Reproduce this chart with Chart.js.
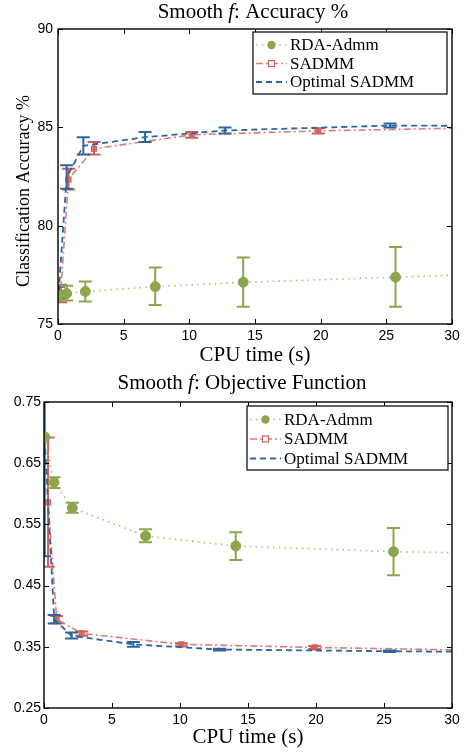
<!DOCTYPE html>
<html><head><meta charset="utf-8">
<script src="https://cdn.jsdelivr.net/npm/chart.js@4.4.1/dist/chart.umd.min.js"></script>
<style>
body{margin:0;background:#fff;width:465px;height:755px;overflow:hidden}
canvas{position:absolute;left:0}
#c1{top:0}
#c2{top:372px}
</style>
</head><body>
<canvas id="c1" width="465" height="372"></canvas>
<canvas id="c2" width="465" height="383"></canvas>
<script>
// ---------- data ----------
const seriesNames = ['RDA-Admm', 'SADMM', 'Optimal SADMM'];
const xTicks = [0, 5, 10, 15, 20, 25, 30];
const accYTicks = [75, 80, 85, 90];
const accYTickLabels = ['75', '80', '85', '90'];
const objYTicks = [0.25, 0.35, 0.45, 0.55, 0.65, 0.75];
const objYTickLabels = ['0.25', '0.35', '0.45', '0.55', '0.65', '0.75'];

// Accuracy (%)
const accRdaX  = [0.05, 0.66, 2.08, 7.4, 14.1, 25.7, 30];
const accRdaY  = [76.45, 76.55, 76.65, 76.9, 77.12, 77.38, 77.48];
const accRdaLo = [null, 76.19, 76.15, 75.97, 75.88, 75.88, null];
const accRdaHi = [null, 76.94, 77.16, 77.87, 78.38, 78.91, null];

const accSadX  = [0.2, 0.8, 2.74, 10.18, 19.82, 30];
const accSadY  = [76.55, 82.35, 83.91, 84.62, 84.82, 84.95];
const accSadLo = [76.1, 81.84, 83.62, 84.47, 84.69, null];
const accSadHi = [77.0, 82.89, 84.25, 84.76, 84.95, null];

const accOptX  = [0.05, 0.66, 1.93, 6.63, 12.72, 25.28, 30];
const accOptY  = [76.6, 82.45, 84.06, 84.5, 84.84, 85.09, 85.08];
const accOptLo = [76.3, 81.88, 83.62, 84.25, 84.69, 84.99, null];
const accOptHi = [76.9, 83.07, 84.5, 84.76, 84.99, 85.19, null];

// Objective function
const objRdaX  = [0.05, 0.735, 2.08, 7.47, 14.1, 25.7, 30];
const objRdaY  = [0.693, 0.619, 0.577, 0.531, 0.5147, 0.5055, 0.504];
const objRdaLo = [null, 0.6095, 0.569, 0.521, 0.492, 0.467, null];
const objRdaHi = [null, 0.627, 0.5855, 0.542, 0.537, 0.544, null];

const objSadX  = [0.3, 0.93, 2.77, 10.1, 19.9, 30];
const objSadY  = [0.586, 0.395, 0.372, 0.354, 0.349, 0.345];
const objSadLo = [0.481, 0.3885, 0.368, 0.351, 0.3465, null];
const objSadHi = [0.692, 0.4003, 0.375, 0.356, 0.3515, null];

const objOptX  = [0.05, 0.75, 2.03, 6.57, 12.9, 25.4, 30];
const objOptY  = [0.69, 0.395, 0.368, 0.354, 0.3455, 0.3428, 0.342];
const objOptLo = [0.498, 0.388, 0.3637, 0.350, 0.344, 0.3415, null];
const objOptHi = [0.88, 0.402, 0.3735, 0.358, 0.347, 0.344, null];

// ---------- styles ----------
const GREEN = '#8da64e', RED = '#d0605b', BLUE = '#2e64a0';
const SERIF = '"Liberation Serif", "Times New Roman", serif';
const SANS = '"Liberation Sans", Arial, sans-serif';

function pts(xs, ys) { return xs.map((x, i) => ({x, y: ys[i]})); }

function makeDatasets(rX, rY, rLo, rHi, sX, sY, sLo, sHi, oX, oY, oLo, oHi) {
  return [
    {
      label: seriesNames[0], data: pts(rX, rY), errLo: rLo, errHi: rHi, errColor: GREEN,
      borderColor: 'rgba(165,188,110,0.9)', borderWidth: 1.6, borderDash: [1.6, 4.2],
      pointStyle: 'circle', pointBackgroundColor: GREEN, pointBorderColor: GREEN,
      pointRadius: c => c.dataIndex === rX.length - 1 ? 0 : 5, pointBorderWidth: 1,
      legendMarker: 'circle', order: 0
    },
    {
      label: seriesNames[1], data: pts(sX, sY), errLo: sLo, errHi: sHi, errColor: RED,
      borderColor: '#dd7d77', borderWidth: 1.6, borderDash: [7, 3, 2, 3],
      pointStyle: 'rect', pointBackgroundColor: 'rgba(214,112,106,0.75)', pointBorderColor: RED,
      pointRadius: c => c.dataIndex === sX.length - 1 ? 0 : 3.5, pointBorderWidth: 1.2,
      legendMarker: 'rect', order: 2
    },
    {
      label: seriesNames[2], data: pts(oX, oY), errLo: oLo, errHi: oHi, errColor: BLUE,
      borderColor: BLUE, borderWidth: 1.8, borderDash: [6, 4],
      pointRadius: 0, legendMarker: null, order: 1
    }
  ];
}

// ---------- plugins ----------
const errorBars = {
  id: 'errorBars',
  afterDatasetDraw(chart, args) {
    const ds = chart.data.datasets[args.index];
    if (!ds.errLo) return;
    const {ctx, chartArea: a, scales: {x, y}} = chart;
    const w = 6.5;
    ctx.save();
    ctx.beginPath(); ctx.rect(a.left, a.top, a.width, a.height); ctx.clip();
    ctx.strokeStyle = ds.errColor; ctx.lineWidth = 2; ctx.setLineDash([]);
    ds.data.forEach((p, i) => {
      const lo = ds.errLo[i], hi = ds.errHi[i];
      if (lo == null || hi == null) return;
      const px = x.getPixelForValue(p.x), pl = y.getPixelForValue(lo), ph = y.getPixelForValue(hi);
      ctx.beginPath();
      ctx.moveTo(px, pl); ctx.lineTo(px, ph);
      ctx.moveTo(px - w, pl); ctx.lineTo(px + w, pl);
      ctx.moveTo(px - w, ph); ctx.lineTo(px + w, ph);
      ctx.stroke();
    });
    ctx.restore();
  }
};

const frameTicks = {
  id: 'frameTicks',
  afterDraw(chart) {
    const {ctx, chartArea: a, scales: {x, y}} = chart;
    const L = 5;
    ctx.save();
    ctx.strokeStyle = '#000'; ctx.lineWidth = 1.4; ctx.setLineDash([]);
    ctx.strokeRect(a.left, a.top, a.right - a.left, a.bottom - a.top);
    ctx.lineWidth = 1;
    ctx.beginPath();
    x.ticks.forEach(t => {
      const px = Math.round(x.getPixelForValue(t.value)) + 0.5;
      ctx.moveTo(px, a.bottom); ctx.lineTo(px, a.bottom - L);
      ctx.moveTo(px, a.top); ctx.lineTo(px, a.top + L);
    });
    y.ticks.forEach(t => {
      const py = Math.round(y.getPixelForValue(t.value)) + 0.5;
      ctx.moveTo(a.left, py); ctx.lineTo(a.left + L, py);
      ctx.moveTo(a.right, py); ctx.lineTo(a.right - L, py);
    });
    ctx.stroke();
    ctx.restore();
  }
};

const richTitle = {
  id: 'richTitle',
  afterDraw(chart, args, opts) {
    const {ctx, chartArea: a} = chart;
    ctx.save();
    ctx.fillStyle = '#000';
    ctx.textBaseline = 'middle';
    if (opts.parts) {
      const fonts = opts.parts.map(p => (p.italic ? 'italic ' : '') + opts.size + 'px ' + SERIF);
      let total = 0;
      const widths = opts.parts.map((p, i) => { ctx.font = fonts[i]; const w = ctx.measureText(p.text).width; total += w; return w; });
      let xx = (a.left + a.right) / 2 + (opts.dx || 0) - total / 2;
      ctx.textAlign = 'left';
      opts.parts.forEach((p, i) => { ctx.font = fonts[i]; ctx.fillText(p.text, xx, opts.y); xx += widths[i]; });
    }
    if (opts.yTitle) {
      ctx.font = opts.yTitleSize + 'px ' + SERIF;
      ctx.textAlign = 'center';
      ctx.translate(opts.yTitleX, opts.yTitleY);
      ctx.rotate(-Math.PI / 2);
      ctx.fillText(opts.yTitle, 0, 0);
    }
    ctx.restore();
  }
};

const boxLegend = {
  id: 'boxLegend',
  afterDraw(chart, args, opts) {
    const {ctx, chartArea: a} = chart;
    const bx = a.right - opts.rightGap - opts.width, by = a.top + opts.topGap;
    ctx.save();
    ctx.fillStyle = '#fff';
    ctx.fillRect(bx, by, opts.width, opts.height);
    ctx.strokeStyle = '#000'; ctx.lineWidth = 1.2; ctx.setLineDash([]);
    ctx.strokeRect(bx, by, opts.width, opts.height);
    ctx.font = opts.size + 'px ' + SERIF;
    ctx.textBaseline = 'middle';
    chart.data.datasets.forEach((ds, i) => {
      const cy = by + opts.firstRow + i * opts.rowGap;
      const x0 = bx + 3, x1 = bx + 3 + opts.sample;
      ctx.strokeStyle = ds.borderColor; ctx.lineWidth = ds.borderWidth;
      ctx.setLineDash(ds.borderDash || []);
      ctx.beginPath(); ctx.moveTo(x0, cy); ctx.lineTo(x1, cy); ctx.stroke();
      ctx.setLineDash([]);
      const mx = (x0 + x1) / 2;
      if (ds.legendMarker === 'circle') {
        ctx.fillStyle = ds.pointBackgroundColor;
        ctx.beginPath(); ctx.arc(mx, cy, 4.2, 0, Math.PI * 2); ctx.fill();
      } else if (ds.legendMarker === 'rect') {
        ctx.fillStyle = '#fff'; ctx.fillRect(mx - 3, cy - 3, 6, 6);
        ctx.strokeStyle = ds.pointBorderColor; ctx.lineWidth = 1.2;
        ctx.strokeRect(mx - 3, cy - 3, 6, 6);
      }
      ctx.fillStyle = '#000';
      ctx.fillText(ds.label, x1 + 3, cy + 1);
    });
    ctx.restore();
  }
};

function makeChart(id, datasets, yTicks, yLabels, cfg) {
  return new Chart(document.getElementById(id), {
    type: 'line',
    data: {datasets},
    plugins: [errorBars, frameTicks, richTitle, boxLegend],
    options: {
      responsive: false, animation: false, devicePixelRatio: 1,
      layout: {padding: {top: cfg.top, right: cfg.right, left: 0, bottom: 0}},
      plugins: {
        legend: {display: false}, tooltip: {enabled: false}, title: {display: false},
        richTitle: {parts: cfg.title, size: 21, y: cfg.titleY, dx: cfg.titleDx,
                    yTitle: cfg.yTitle, yTitleSize: 18, yTitleX: 24, yTitleY: 191},
        boxLegend: cfg.legend
      },
      scales: {
        x: {
          type: 'linear', min: 0, max: 30,
          afterBuildTicks: s => { s.ticks = xTicks.map(v => ({value: v})); },
          afterFit: s => { s.height = cfg.xHeight; },
          grid: {display: false, drawTicks: false}, border: {display: false},
          ticks: {color: '#000', font: {family: SANS, size: 14}, padding: 4, maxRotation: 0,
                  callback: (v, i) => String(xTicks[i])},
          title: {display: true, text: 'CPU time (s)', color: '#000',
                  font: {family: SERIF, size: 21}, padding: {top: 0, bottom: cfg.xTitlePad}}
        },
        y: {
          type: 'linear', min: yTicks[0], max: yTicks[yTicks.length - 1],
          afterBuildTicks: s => { s.ticks = yTicks.map(v => ({value: v})); },
          afterFit: s => { s.width = cfg.yWidth; },
          grid: {display: false, drawTicks: false}, border: {display: false},
          ticks: {color: '#000', font: {family: SANS, size: 14}, padding: cfg.yPad,
                  callback: (v, i) => yLabels[i]},
          title: {display: false}
        }
      }
    }
  });
}

makeChart('c1',
  makeDatasets(accRdaX, accRdaY, accRdaLo, accRdaHi, accSadX, accSadY, accSadLo, accSadHi, accOptX, accOptY, accOptLo, accOptHi),
  accYTicks, accYTickLabels,
  {top: 29, right: 13, xHeight: 48, yWidth: 58, yPad: 5, xTitlePad: 4, titleY: 12, titleDx: -2,
   yTitle: 'Classification Accuracy %',
   title: [{text: 'Smooth '}, {text: 'f', italic: true}, {text: ': Accuracy %'}],
   legend: {width: 194, height: 62, rightGap: 5, topGap: 3, firstRow: 13, rowGap: 18.5, sample: 31, size: 17}});

makeChart('c2',
  makeDatasets(objRdaX, objRdaY, objRdaLo, objRdaHi, objSadX, objSadY, objSadLo, objSadHi, objOptX, objOptY, objOptLo, objOptHi),
  objYTicks, objYTickLabels,
  {top: 30, right: 13, xHeight: 47, yWidth: 44, yPad: 3, xTitlePad: 5, titleY: 11, titleDx: -6,
   yTitle: null,
   title: [{text: 'Smooth '}, {text: 'f', italic: true}, {text: ': Objective Function'}],
   legend: {width: 201, height: 64, rightGap: 4, topGap: 4, firstRow: 13.5, rowGap: 19.5, sample: 31, size: 17}});
</script>
</body></html>
